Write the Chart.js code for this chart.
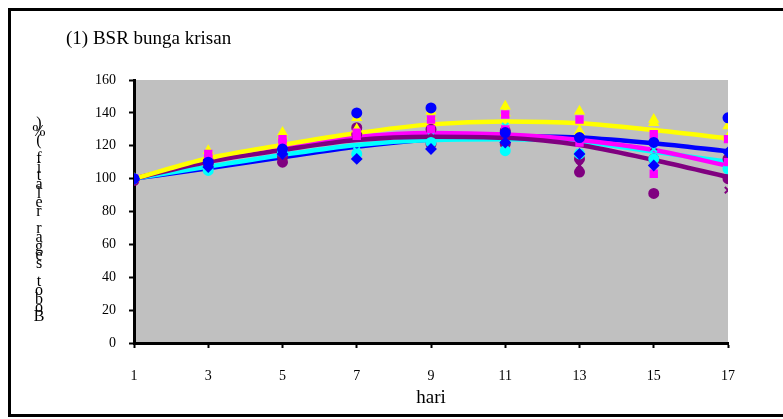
<!DOCTYPE html>
<html>
<head>
<meta charset="utf-8">
<style>
body{margin:0;background:#fff;}
</style>
<script src="https://cdn.jsdelivr.net/npm/chart.js@4"></script>
</head>
<body>
<canvas id="grafik" width="783" height="419"></canvas>
<script>
// hari pengamatan
const hari = [1, 3, 5, 7, 9, 11, 13, 15, 17];

// nilai ulangan (titik) per perlakuan
const biruA = [100, 110, 118, 140, 143, 128, 125, 122, 137];
const biruB = [100, 107, 115, 112, 118, 122, 115, 108, 116];
const merahmudaA = [100, 115, 124, 128, 136, 139, 136, 127, 124];
const merahmudaB = [100, 112, 122, 126, 130, 130, 122, 103, 110];
const kuningA = [100, 117, 128, 137, 141, 144, 141, 136, 132];
const kuningB = [100, 114, 126, 130, 138, 140, 129, 134, 125];
const sianA = [100, 108, 118, 117, 129, 132, 116, 118, 107];
const sianB = [100, 105, 116, 115, 122, 117, 115, 112, 106];
const unguA = [99, 111, 113, 131, 130, 129, 112, 112, 112];
const unguB = [99, 109, 110, 127, 121, 121, 104, 91, 100];
const unguC = [99, 110, 111, 129, 125, 125, 108, 119, 93];

// garis tren
const trenKuning = [100, 112.4, 120.5, 127.7, 133, 134.8, 133.7, 129.6, 124.5];
const trenMerahmuda = [100, 111, 119.4, 125.5, 127.8, 126.8, 123.5, 117.4, 107.8];
const trenUngu = [100, 110.3, 117.4, 123.5, 125.5, 124.8, 120.5, 111.3, 101];
const trenSian = [100, 107.3, 114.4, 120.5, 123.5, 124, 122.5, 116.4, 110.3];
const trenBiru = [100, 106.3, 113, 119.4, 123.8, 125.8, 125, 121.5, 116.6];

const judul = "(1) BSR bunga krisan";
const judulY = "Bobot segar relatif (%)";
const judulX = "hari";

const BIRU = "#0000FF", MERAHMUDA = "#FF00FF", KUNINGWARNA = "#FFFF00",
      SIAN = "#00FFFF", UNGU = "#800080";

function titik(nilai){
  return hari.map((h, i) => ({x: h, y: nilai[i]}));
}

function seriTitik(nilai, warna, gaya){
  return {
    type: "scatter",
    data: titik(nilai),
    backgroundColor: warna,
    borderColor: warna,
    borderWidth: 2,
    pointStyle: gaya,
    pointRadius: 4.5,
    order: 0
  };
}

function seriTren(nilai, warna, urutan){
  return {
    type: "line",
    data: titik(nilai),
    borderColor: warna,
    borderWidth: 4.5,
    pointRadius: 0,
    fill: false,
    cubicInterpolationMode: "monotone",
    order: urutan
  };
}

const latarAbu = {
  id: "latarAbu",
  beforeDraw(chart){
    const {ctx, chartArea: a} = chart;
    ctx.save();
    ctx.fillStyle = "#C0C0C0";
    ctx.fillRect(a.left, a.top, a.right - a.left, a.bottom - a.top);
    ctx.restore();
  },
  afterDraw(chart){
    const ctx = chart.ctx;
    ctx.save();
    // bingkai luar
    ctx.strokeStyle = "#000";
    ctx.lineWidth = 3;
    ctx.strokeRect(9.5, 9.5, 790, 406);
    // judul
    ctx.fillStyle = "#000";
    ctx.font = "19px 'Liberation Serif'";
    ctx.textAlign = "left";
    ctx.textBaseline = "alphabetic";
    ctx.fillText(judul, 66, 44);
    // judul sumbu y, huruf bertumpuk dari bawah ke atas
    ctx.font = "16px 'Liberation Serif'";
    ctx.textAlign = "center";
    ctx.textBaseline = "middle";
    const huruf = judulY.split("");
    huruf.forEach((c, i) => {
      ctx.fillText(c, 39, 317 - i * 8.8);
    });
    ctx.restore();
  }
};

new Chart(document.getElementById("grafik"), {
  data: {
    datasets: [
      seriTitik(biruA, BIRU, "circle"),
      seriTitik(biruB, BIRU, "rectRot"),
      seriTitik(merahmudaA, MERAHMUDA, "rect"),
      seriTitik(merahmudaB, MERAHMUDA, "rect"),
      seriTitik(kuningA, KUNINGWARNA, "triangle"),
      seriTitik(kuningB, KUNINGWARNA, "triangle"),
      seriTitik(sianA, SIAN, "crossRot"),
      seriTitik(sianB, SIAN, "circle"),
      seriTitik(unguA, UNGU, "circle"),
      seriTitik(unguB, UNGU, "circle"),
      seriTitik(unguC, UNGU, "crossRot"),
      seriTren(trenKuning, KUNINGWARNA, 1),
      seriTren(trenUngu, UNGU, 2),
      seriTren(trenMerahmuda, MERAHMUDA, 3),
      seriTren(trenSian, SIAN, 4),
      seriTren(trenBiru, BIRU, 5)
    ]
  },
  options: {
    responsive: false,
    animation: false,
    layout: {padding: {left: 0, top: 80, right: 55, bottom: 0}},
    plugins: {
      legend: {display: false},
      tooltip: {enabled: false}
    },
    scales: {
      x: {
        type: "linear",
        min: 1,
        max: 17,
        afterFit(s){ s.height = 76; },
        border: {display: true, color: "#000", width: 3},
        grid: {drawOnChartArea: false, drawTicks: true, tickLength: 5, tickColor: "#000", tickWidth: 2},
        ticks: {stepSize: 2, color: "#000", padding: 20, font: {family: "'Liberation Serif'", size: 14}},
        title: {display: true, text: judulX, color: "#000", padding: {top: 0, bottom: 10},
                font: {family: "'Liberation Serif'", size: 19}}
      },
      y: {
        min: 0,
        max: 160,
        afterFit(s){ s.width = 134; },
        border: {display: true, color: "#000", width: 3},
        grid: {drawOnChartArea: false, drawTicks: true, tickLength: 5, tickColor: "#000", tickWidth: 2},
        ticks: {stepSize: 20, color: "#000", padding: 13, font: {family: "'Liberation Serif'", size: 14}}
      }
    }
  },
  plugins: [latarAbu]
});
</script>
</body>
</html>
